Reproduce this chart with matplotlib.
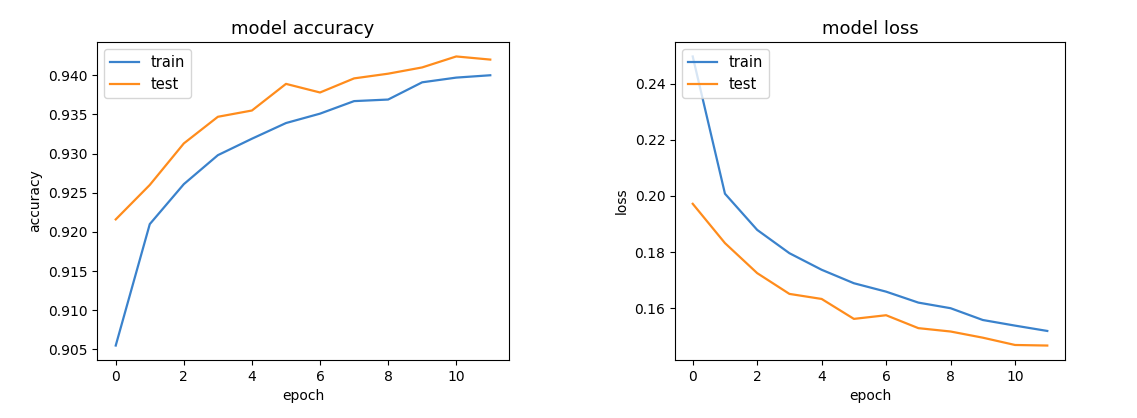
import matplotlib
matplotlib.use("Agg")
import matplotlib.pyplot as plt

epochs = list(range(12))
acc_train = [0.9055, 0.9210, 0.9261, 0.9298, 0.9319, 0.9339, 0.9351, 0.9367, 0.9369, 0.9391, 0.9397, 0.9400]
acc_test = [0.9216, 0.9260, 0.9313, 0.9347, 0.9355, 0.9389, 0.9378, 0.9396, 0.9402, 0.9410, 0.9424, 0.9420]
loss_train = [0.2497, 0.2008, 0.1879, 0.1796, 0.1737, 0.1689, 0.1659, 0.1620, 0.1600, 0.1558, 0.1538, 0.1519]
loss_test = [0.1972, 0.1832, 0.1725, 0.1651, 0.1633, 0.1562, 0.1575, 0.1529, 0.1517, 0.1495, 0.1469, 0.1467]

blue = "#3a82cc"
orange = "#ff8c1c"

fig = plt.figure(figsize=(11.37, 4.18), dpi=100)
ax1 = fig.add_axes([97/1137, 1-360/418, (509-97)/1137, (360-42)/418])
ax2 = fig.add_axes([675/1137, 1-360/418, (1065-675)/1137, (360-42)/418])

ax1.plot(epochs, acc_train, color=blue, label="train", lw=1.6)
ax1.plot(epochs, acc_test, color=orange, label="test", lw=1.6)
ax1.set_title("model accuracy", fontsize=13)
ax1.set_ylabel("accuracy")
ax1.set_xlabel("epoch")
ax1.legend(loc="upper left", fontsize=10.5)

ax2.plot(epochs, loss_train, color=blue, label="train", lw=1.6)
ax2.plot(epochs, loss_test, color=orange, label="test", lw=1.6)
ax2.set_title("model loss", fontsize=13)
ax2.set_ylabel("loss")
ax2.set_xlabel("epoch")
ax2.legend(loc="upper left", fontsize=10.5)

fig.savefig("out.png", dpi=100)
